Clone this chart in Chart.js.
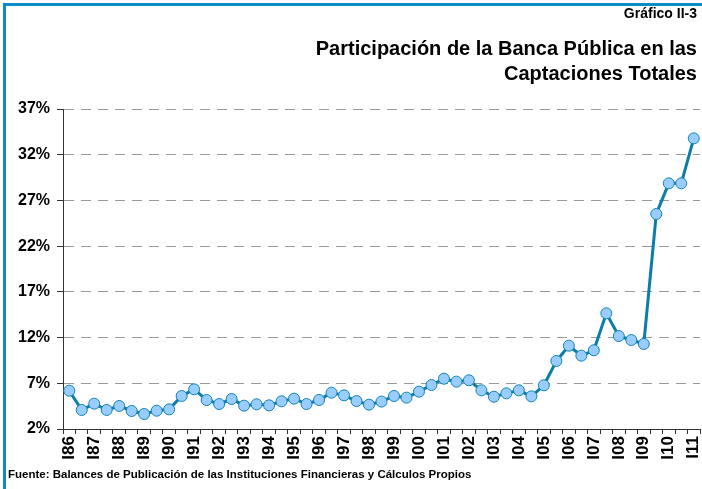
<!DOCTYPE html>
<html>
<head>
<meta charset="utf-8">
<script src="https://cdn.jsdelivr.net/npm/chart.js@4/dist/chart.umd.min.js"></script>
<style>
  html, body { margin:0; padding:0; background:#fff; }
  body { width:702px; height:489px; position:relative; overflow:hidden; font-family:"Liberation Sans", Arial, sans-serif; }
  #frame { position:absolute; left:3px; top:3px; width:699px; height:486px; border-left:3px solid #0A8CC4; border-top:3px solid #0A8CC4; box-sizing:border-box; }
  #c { position:absolute; left:0; top:0; }
  .t { position:absolute; right:5px; font-weight:bold; color:#000; white-space:nowrap; text-align:right; }
  #kicker { top:5px; font-size:14px; }
  #title { top:36px; font-size:20px; line-height:25px; }
  #source { position:absolute; left:8px; top:468px; font-size:11.5px; font-weight:bold; white-space:nowrap; }
</style>
</head>
<body>
<div id="frame"></div>
<canvas id="c" width="702" height="489"></canvas>
<div class="t" id="kicker">Gráfico II-3</div>
<div class="t" id="title">Participación de la Banca Pública en las<br>Captaciones Totales</div>
<div id="source">Fuente: Balances de Publicación de las Instituciones Financieras y Cálculos Propios</div>
<script>
// Semesters (I = first half, II = second half), 1986-I to 2011-I
const categories = [
  'I86','II86','I87','II87','I88','II88','I89','II89','I90','II90',
  'I91','II91','I92','II92','I93','II93','I94','II94','I95','II95',
  'I96','II96','I97','II97','I98','II98','I99','II99','I00','II00',
  'I01','II01','I02','II02','I03','II03','I04','II04','I05','II05',
  'I06','II06','I07','II07','I08','II08','I09','II09','I10','II10','I11'
];
// Tick labels shown on the x axis (first semesters only)
const tickLabels = [
  'I86','','I87','','I88','','I89','','I90','',
  'I91','','I92','','I93','','I94','','I95','',
  'I96','','I97','','I98','','I99','','I00','',
  'I01','','I02','','I03','','I04','','I05','',
  'I06','','I07','','I08','','I09','','I10','','I11'
];
// Share of public banks in total deposits (%)
const shareValues = [
  6.19, 4.08, 4.77, 4.08, 4.52, 3.97, 3.64, 4.00, 4.15, 5.61,
  6.34, 5.17, 4.73, 5.28, 4.55, 4.70, 4.59, 5.03, 5.32, 4.73,
  5.17, 5.97, 5.68, 5.06, 4.66, 5.00, 5.61, 5.43, 6.08, 6.81,
  7.50, 7.18, 7.33, 6.23, 5.53, 5.90, 6.23, 5.57, 6.78, 9.44,
  11.11, 10.02, 10.61, 14.65, 12.17, 11.73, 11.30, 25.52, 28.87, 28.87,
  33.79
];
// Y-axis ticks
const yMin = 2, yMax = 37, yStep = 5;

const FONT = '"Liberation Sans", Arial, sans-serif';

new Chart(document.getElementById('c'), {
  type: 'line',
  data: {
    labels: categories,
    datasets: [{
      data: shareValues,
      borderColor: '#0A7EA8',
      borderWidth: 3,
      pointRadius: 5.5,
      pointHoverRadius: 5.5,
      pointBackgroundColor: '#99CCFF',
      pointBorderColor: '#1283B0',
      pointBorderWidth: 1,
      tension: 0,
      fill: false,
      clip: false
    }]
  },
  options: {
    responsive: false,
    devicePixelRatio: 1,
    animation: false,
    events: [],
    layout: { autoPadding: false, padding: { top: 109, right: 2, bottom: 0, left: 0 } },
    plugins: { legend: { display: false }, title: { display: false }, tooltip: { enabled: false } },
    scales: {
      x: {
        type: 'category',
        offset: true,
        afterFit: (s) => { s.height = 60; s.paddingLeft = 0; s.paddingRight = 0; },
        grid: { display: true, drawOnChartArea: false, drawTicks: true, offset: true, tickLength: 5, color: '#333', tickColor: '#333', lineWidth: 1 },
        border: { display: true, color: '#333', width: 1 },
        ticks: {
          autoSkip: false, maxRotation: 90, minRotation: 90, padding: 2,
          color: '#000', font: { family: FONT, size: 17, weight: 'bold' },
          callback: (v, i) => tickLabels[i]
        }
      },
      y: {
        min: yMin, max: yMax,
        afterFit: (s) => { s.width = 63; },
        grid: { color: '#9A9A9A', lineWidth: 1, drawTicks: true, tickLength: 6, tickColor: '#333', tickBorderDash: [] },
        border: { display: true, color: '#333', width: 1, dash: [10, 7] },
        ticks: {
          stepSize: yStep, padding: 7, color: '#000',
          font: { family: FONT, size: 16, weight: 'bold' },
          callback: (v) => v + '%'
        }
      }
    }
  }
});
</script>
</body>
</html>
